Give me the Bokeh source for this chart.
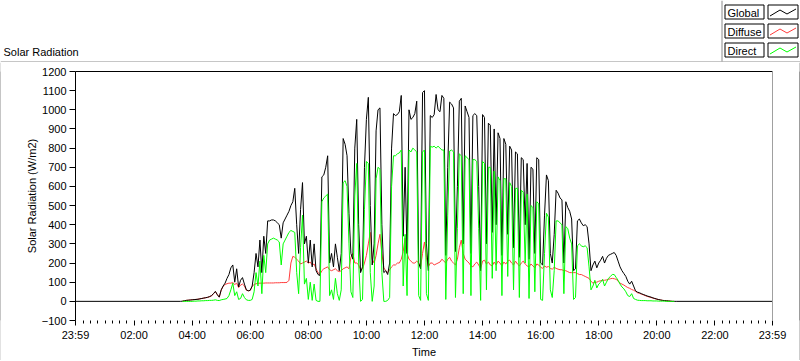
from bokeh.plotting import figure
from bokeh.models import Range1d, FixedTicker, LinearAxis
from bokeh.layouts import column, row
from bokeh.core.properties import value
from bokeh.embed import file_html
from bokeh.resources import INLINE

FONT = "Liberation Sans"

# ---------------- data (W/m2), 4-minute samples from 03:40 to 20:36 ----------------
day_start_min = 220
day_step_min = 4

global_day = [
    1, 3, 5, 6, 7, 8, 9, 10, 11, 13, 15, 17, 19, 21, 25,
    30, 40, 52, 35, 22, 60, 80, 95, 120, 140, 175, 190, 100, 170, 75,
    110, 124, 90, 60, 55, 58, 80, 150, 250, 180, 320, 150, 340, 250, 420,
    420, 425, 425, 420, 410, 400, 330, 410, 430, 450, 470, 500, 520, 590, 400,
    250, 480, 620, 300, 340, 200, 320, 180, 300, 160, 140, 135, 650, 660, 700,
    760, 200, 250, 180, 300, 230, 160, 250, 850, 820, 760, 460, 250, 220, 800,
    950, 400, 150, 180, 700, 950, 1065, 500, 190, 300, 890, 1000, 1010, 400, 150,
    160, 140, 200, 800, 980, 970, 975, 990, 1075, 340, 700, 250, 1000, 950, 960,
    980, 1045, 200, 170, 1090, 1100, 300, 160, 970, 960, 975, 1080, 1000, 990, 1075,
    1060, 240, 700, 1040, 1030, 1010, 260, 600, 1045, 1060, 300, 1020, 990, 960, 250,
    970, 980, 970, 600, 160, 975, 960, 300, 930, 920, 360, 900, 400, 880, 850,
    240, 850, 820, 350, 810, 790, 280, 780, 770, 230, 750, 740, 400, 720, 220,
    700, 690, 250, 750, 740, 200, 190, 450, 660, 630, 250, 200, 350, 580, 565,
    540, 530, 200, 520, 490, 470, 430, 160, 170, 420, 430, 410, 395, 400, 390,
    300, 160, 190, 210, 175, 200, 215, 235, 200, 225, 240, 245, 250, 255, 240,
    210, 180, 160, 145, 130, 105, 90, 105, 80, 55, 48, 45, 40, 36, 32,
    28, 25, 22, 18, 15, 12, 9, 7, 5, 4, 3, 2, 1, 0, 0,
]

diffuse_day = [
    1, 3, 5, 6, 7, 8, 9, 10, 11, 13, 15, 17, 19, 21, 24,
    28, 40, 50, 35, 22, 58, 78, 88, 92, 95, 95, 98, 88, 95, 72,
    85, 90, 80, 58, 55, 57, 78, 88, 92, 94, 95, 95, 95, 96, 96,
    96, 96, 96, 97, 97, 97, 98, 98, 98, 99, 110, 200, 235, 230, 220,
    210, 195, 200, 205, 210, 200, 205, 190, 195, 170, 150, 140, 160, 170, 175,
    180, 165, 160, 165, 170, 160, 155, 160, 170, 175, 180, 170, 230, 250, 200,
    200, 190, 165, 170, 200, 240, 300, 360, 220, 200, 240, 300, 350, 250, 175,
    160, 150, 165, 180, 190, 190, 200, 200, 220, 260, 330, 250, 220, 210, 200,
    200, 210, 200, 180, 250, 310, 230, 180, 200, 200, 190, 195, 200, 205, 220,
    210, 200, 220, 230, 210, 200, 190, 220, 280, 320, 250, 220, 210, 200, 185,
    180, 195, 205, 190, 170, 210, 215, 195, 205, 190, 185, 205, 190, 210, 200,
    185, 205, 195, 210, 215, 200, 190, 210, 195, 185, 200, 210, 195, 185, 180,
    195, 185, 175, 195, 190, 178, 172, 185, 178, 182, 172, 168, 178, 172, 168,
    165, 165, 160, 160, 155, 150, 150, 150, 150, 145, 140, 140, 135, 130, 125,
    120, 105, 95, 100, 100, 105, 108, 110, 110, 112, 115, 118, 120, 118, 115,
    105, 95, 90, 85, 78, 72, 68, 62, 58, 52, 45, 42, 38, 34, 30,
    26, 23, 20, 17, 14, 11, 9, 7, 5, 4, 3, 2, 1, 0, 0,
]

direct_day = [
    0, 0, 0, 0, 0, 0, 1, 1, 2, 2, 3, 3, 4, 4, 5,
    5, 6, 8, 5, 4, 8, 10, 12, 15, 30, 60, 95, 30, 50, 10,
    15, 40, 20, 8, 5, 5, 10, 50, 150, 80, 210, 40, 240, 150, 300,
    320, 325, 330, 325, 320, 310, 190, 300, 320, 340, 360, 370, 365, 360, 150,
    40, 280, 450, 90, 120, 10, 100, 5, 90, 5, 0, 0, 520, 540, 550,
    560, 30, 60, 10, 120, 40, 5, 60, 620, 630, 600, 300, 50, 20, 550,
    720, 200, 0, 10, 480, 730, 720, 150, 0, 80, 640, 700, 690, 150, 0,
    0, 5, 20, 600, 760, 760, 770, 775, 790, 80, 350, 30, 790, 780, 800,
    790, 780, 30, 5, 780, 790, 40, 5, 810, 805, 810, 800, 810, 800, 790,
    790, 10, 450, 785, 790, 780, 20, 380, 770, 760, 40, 760, 750, 740, 30,
    740, 740, 730, 380, 5, 730, 720, 60, 700, 700, 120, 680, 160, 650, 630,
    30, 640, 640, 130, 620, 600, 60, 590, 590, 20, 580, 570, 200, 560, 15,
    500, 490, 50, 520, 510, 10, 5, 250, 460, 440, 60, 20, 160, 420, 420,
    410, 400, 40, 390, 380, 330, 300, 10, 20, 290, 300, 290, 285, 290, 280,
    180, 60, 80, 110, 70, 90, 100, 115, 80, 100, 120, 130, 140, 140, 125,
    110, 90, 75, 65, 50, 30, 25, 40, 15, 10, 6, 5, 4, 4, 4,
    3, 3, 3, 2, 2, 2, 1, 1, 1, 1, 0, 0, 0, 0, 0,
]

# night: global sensor reads 0 outside the daytime window
night_before_min = [-1, 216]
night_before_val = [0, 0]
night_after_min = [1240, 1439]
night_after_val = [0, 0]

series_names = ["Global", "Diffuse", "Direct"]
series_colors = ["#000000", "#ff3c3c", "#00ff00"]

x_tick_minutes = [-1, 120, 240, 360, 480, 600, 720, 840, 960, 1080, 1200, 1320, 1439]
x_tick_labels = ["23:59", "02:00", "04:00", "06:00", "08:00", "10:00", "12:00",
                 "14:00", "16:00", "18:00", "20:00", "22:00", "23:59"]
y_ticks = [-100, 0, 100, 200, 300, 400, 500, 600, 700, 800, 900, 1000, 1100, 1200]

day_minutes = [day_start_min + day_step_min * k for k in range(len(global_day))]
global_minutes = night_before_min + day_minutes + night_after_min
global_values = night_before_val + global_day + night_after_val
minor_minutes = [m for m in range(0, 1440, 15) if m not in x_tick_minutes]

W = 800
HEAD_H = 62
MID_H = 298
LIGHT = "#8c8c8c"
DARK = "#3a3a3a"
TXT_SHIFT = 4  # alphabetic-baseline correction

# ---------------- header: caption, legend, frame line ----------------
header = figure(width=W, height=HEAD_H, x_range=Range1d(0, W), y_range=Range1d(HEAD_H, 0),
                toolbar_location=None, output_backend="svg", x_axis_type=None,
                y_axis_type=None, min_border=0, outline_line_color=None)
header.text(x=[3], y=[55.5 - TXT_SHIFT], text=["Solar Radiation"], text_font=value(FONT),
            text_font_size="11px", text_color="black", text_baseline="alphabetic")
header.segment(x0=[0], y0=[61.5], x1=[W], y1=[61.5], line_color=LIGHT, line_width=1)
header.segment(x0=[721.5], y0=[0], x1=[721.5], y1=[61], line_color=LIGHT, line_width=1)
box_tops = [4.5, 23.5, 42.5]
header.quad(left=[724.5] * 3, right=[763.5] * 3, top=box_tops, bottom=[t + 14 for t in box_tops],
            fill_color="white", line_color="black", line_width=1)
header.quad(left=[767.5] * 3, right=[797.5] * 3, top=box_tops, bottom=[t + 14 for t in box_tops],
            fill_color="white", line_color="black", line_width=1)
header.text(x=[727] * 3, y=[t + 11.5 - TXT_SHIFT for t in box_tops], text=series_names,
            text_font=value(FONT), text_font_size="11px", text_color="black",
            text_baseline="alphabetic")
for t, c in zip(box_tops, series_colors):
    header.line(x=[769.5, 779.5, 786.5, 795.5], y=[t + 11, t + 5, t + 9, t + 4],
                line_color=c, line_width=1)

# ---------------- main plot ----------------
p = figure(width=W - 2, height=MID_H, x_range=Range1d(-1, 1439), y_range=Range1d(-100, 1200),
           toolbar_location=None, output_backend="svg",
           min_border_left=74, min_border_right=27, min_border_top=9, min_border_bottom=38,
           outline_line_color=None, background_fill_color="white", border_fill_color="white")
p.xgrid.visible = False
p.ygrid.visible = False

xa = p.xaxis[0]
xa.ticker = FixedTicker(ticks=x_tick_minutes, minor_ticks=minor_minutes)
xa.major_label_overrides = {m: lab for m, lab in zip(x_tick_minutes, x_tick_labels)}
xa.axis_line_color = None
xa.major_tick_line_color = "black"
xa.minor_tick_line_color = "black"
xa.major_tick_out = 5
xa.major_tick_in = 0
xa.minor_tick_out = 3
xa.minor_tick_in = 0
xa.major_label_standoff = 3
xa.major_label_text_font = FONT
xa.major_label_text_font_size = "11px"
xa.major_label_text_color = "black"
xa.axis_label = "Time"
xa.axis_label_text_font = FONT
xa.axis_label_text_font_size = "11px"
xa.axis_label_text_font_style = "normal"
xa.axis_label_text_color = "black"
xa.axis_label_standoff = 2

ya = p.yaxis[0]
ya.ticker = FixedTicker(ticks=y_ticks)
ya.axis_line_color = "black"
ya.major_tick_line_color = "black"
ya.major_tick_out = 6
ya.major_tick_in = 0
ya.minor_tick_out = 0
ya.minor_tick_in = 0
ya.major_label_standoff = 3
ya.major_label_text_font = FONT
ya.major_label_text_font_size = "11px"
ya.major_label_text_color = "black"
ya.axis_label = "Solar Radiation (W/m2)"
ya.axis_label_text_font = FONT
ya.axis_label_text_font_size = "11px"
ya.axis_label_text_font_style = "normal"
ya.axis_label_text_color = "black"
ya.axis_label_standoff = 1

for loc, col in (("above", "black"), ("right", "#a0a0a0")):
    ax = LinearAxis(ticker=FixedTicker(ticks=[]), axis_line_color=col,
                    major_tick_out=0, major_tick_in=0, minor_tick_out=0, minor_tick_in=0,
                    major_label_text_font_size="0px")
    p.add_layout(ax, loc)

p.line(x=day_minutes, y=diffuse_day, line_color=series_colors[1], line_width=1)
p.line(x=global_minutes, y=global_values, line_color=series_colors[0], line_width=1)
p.line(x=day_minutes, y=direct_day, line_color=series_colors[2], line_width=1)


def strip(w, h, color):
    s = figure(width=w, height=h, toolbar_location=None, output_backend="svg",
               x_axis_type=None, y_axis_type=None, min_border=0, outline_line_color=None,
               background_fill_color=color, border_fill_color=color)
    return s


left_strip = strip(1, MID_H, LIGHT)
right_strip = strip(1, MID_H, DARK)
bottom_strip = strip(W, 1, DARK)

layout = column(header, row(left_strip, p, right_strip, spacing=0), bottom_strip, spacing=0)
open("out.html", "w").write(file_html(layout, INLINE))
